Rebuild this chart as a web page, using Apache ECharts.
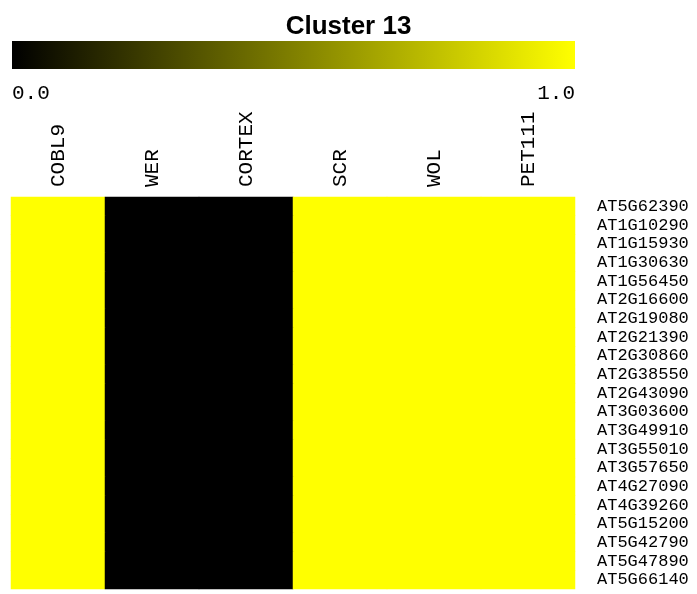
<!DOCTYPE html>
<html>
<head>
<meta charset="utf-8">
<script src="https://cdn.jsdelivr.net/npm/echarts@6/dist/echarts.min.js"></script>
<style>html,body{margin:0;padding:0;background:#fff}#c{width:697px;height:594px}</style>
</head>
<body>
<div id="c"></div>
<script>
var columns = ['COBL9', 'WER', 'CORTEX', 'SCR', 'WOL', 'PET111'];
var genes = ['AT5G62390','AT1G10290','AT1G15930','AT1G30630','AT1G56450','AT2G16600','AT2G19080','AT2G21390','AT2G30860','AT2G38550','AT2G43090','AT3G03600','AT3G49910','AT3G55010','AT3G57650','AT4G27090','AT4G39260','AT5G15200','AT5G42790','AT5G47890','AT5G66140'];
// value per column (same for every gene in this cluster)
var columnValues = [1, 0, 0, 1, 1, 1];
var scaleLabels = ['0.0', '1.0'];

var data = [];
for (var g = 0; g < genes.length; g++) {
  for (var c = 0; c < columns.length; c++) {
    data.push([c, g, columnValues[c]]);
  }
}

var chart = echarts.init(document.getElementById('c'), null, {renderer: 'canvas'});
var mono = '"Liberation Mono", "DejaVu Sans Mono", monospace';
chart.setOption({
  animation: false,
  backgroundColor: '#ffffff',
  title: {
    text: 'Cluster 13',
    left: 'center',
    top: 9,
    textStyle: {fontFamily: '"Liberation Sans", Arial, sans-serif', fontWeight: 'bold', fontSize: 26, color: '#000'}
  },
  grid: {left: 11, top: 197, width: 564, height: 392},
  xAxis: {
    type: 'category',
    data: columns,
    position: 'top',
    axisLine: {show: false},
    axisTick: {show: false},
    splitLine: {show: false},
    axisLabel: {rotate: -90, interval: 0, margin: 10, fontFamily: mono, fontSize: 21, color: '#000'}
  },
  yAxis: {
    type: 'category',
    data: genes,
    inverse: true,
    position: 'right',
    axisLine: {show: false},
    axisTick: {show: false},
    splitLine: {show: false},
    axisLabel: {interval: 0, margin: 22, padding: [14, 0, 0, 0], fontFamily: mono, fontSize: 17, color: '#000'}
  },
  visualMap: {
    show: false,
    min: 0,
    max: 1,
    dimension: 2,
    inRange: {color: ['#000000', '#ffff00']}
  },
  graphic: [
    {
      type: 'rect',
      shape: {x: 12, y: 41, width: 563, height: 28},
      style: {
        fill: new echarts.graphic.LinearGradient(0, 0, 1, 0, [
          {offset: 0, color: '#000000'},
          {offset: 1, color: '#ffff00'}
        ])
      }
    },
    {
      type: 'text',
      x: 12, y: 93,
      style: {text: scaleLabels[0], fontFamily: mono, fontSize: 21, fill: '#000', align: 'left', verticalAlign: 'middle'}
    },
    {
      type: 'text',
      x: 575, y: 93,
      style: {text: scaleLabels[1], fontFamily: mono, fontSize: 21, fill: '#000', align: 'right', verticalAlign: 'middle'}
    }
  ],
  series: [{
    type: 'heatmap',
    data: data,
    itemStyle: {borderWidth: 0},
    emphasis: {disabled: true}
  }]
});
</script>
</body>
</html>
